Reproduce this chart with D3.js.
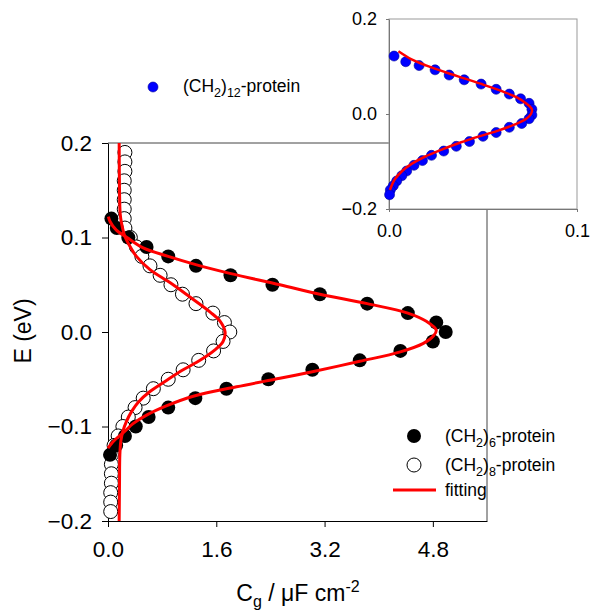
<!DOCTYPE html>
<html><head><meta charset="utf-8">
<script src="https://cdn.jsdelivr.net/npm/d3@7"></script>
<style>body{margin:0;background:#fff}svg{display:block;font-family:Arial,"Liberation Sans",sans-serif}</style>
</head><body>
<script>
// ---- data ----
const xTicks = [0.0, 1.6, 3.2, 4.8];
const yTicks = [-0.2, -0.1, 0.0, 0.1, 0.2];
const insetXTicks = [0.0, 0.1];
const insetYTicks = [-0.2, 0.0, 0.2];

// (CH2)6-protein : [E, C]
const c6E = [0.12,0.11,0.10,0.09,0.08,0.07,0.06,0.05,0.04,0.03,0.02,0.01,0.00,-0.01,-0.02,-0.03,-0.04,-0.05,-0.06,-0.07,-0.08,-0.09,-0.10,-0.11,-0.12,-0.13];
const c6C = [0.05,0.13,0.30,0.57,0.89,1.30,1.81,2.43,3.13,3.83,4.43,4.85,4.99,4.80,4.32,3.72,3.02,2.37,1.75,1.29,0.89,0.60,0.41,0.25,0.12,0.03];

// (CH2)8-protein
const c8E = [0.19,0.18,0.17,0.16,0.15,0.14,0.13,0.12,0.11,0.10,0.09,0.08,0.07,0.06,0.05,0.04,0.03,0.02,0.01,0.00,-0.01,-0.02,-0.03,-0.04,-0.05,-0.06,-0.07,-0.08,-0.09,-0.10,-0.11,-0.12,-0.13,-0.14,-0.15,-0.16,-0.17,-0.18,-0.19];
const c8C = [0.25,0.25,0.25,0.24,0.24,0.24,0.24,0.24,0.25,0.33,0.42,0.50,0.62,0.77,0.93,1.10,1.30,1.55,1.72,1.80,1.70,1.56,1.34,1.11,0.89,0.67,0.52,0.40,0.30,0.22,0.15,0.09,0.05,0.05,0.05,0.05,0.04,0.04,0.04];

// fitting curves
const fit6C = [0.005,0.03,0.12,0.28,0.52,0.89,1.31,1.80,2.54,3.13,3.83,4.43,4.71,4.85,4.81,4.66,4.32,3.72,3.02,2.54,1.90,1.26,0.87,0.57,0.37,0.25,0.12,0.04,0.0];
const fit6E = [0.122,0.117,0.108,0.100,0.089,0.080,0.071,0.062,0.050,0.040,0.030,0.020,0.011,0.002,-0.004,-0.012,-0.021,-0.031,-0.042,-0.049,-0.058,-0.068,-0.078,-0.088,-0.097,-0.105,-0.113,-0.119,-0.123];
const fit8C = [0.165,0.17,0.18,0.20,0.25,0.33,0.42,0.62,0.92,1.21,1.51,1.65,1.73,1.70,1.58,1.36,1.11,0.87,0.62,0.45,0.35,0.27,0.22,0.19,0.175,0.17,0.165];
const fit8E = [0.2,0.15,0.125,0.115,0.101,0.090,0.080,0.066,0.052,0.037,0.021,0.012,0.0,-0.010,-0.019,-0.030,-0.040,-0.051,-0.063,-0.074,-0.084,-0.095,-0.105,-0.115,-0.13,-0.16,-0.2];

// (CH2)12-protein (inset)
const c12C = [0.0027,0.0089,0.016,0.0245,0.032,0.040,0.049,0.057,0.064,0.070,0.0745,0.076,0.076,0.0745,0.0706,0.064,0.057,0.050,0.0428,0.0358,0.0291,0.0226,0.0178,0.0133,0.0094,0.0068,0.0041,0.0023,0.0007,0.0003];
const c12E = [0.122,0.110,0.102,0.093,0.082,0.072,0.063,0.052,0.042,0.032,0.0225,0.010,-0.002,-0.010,-0.020,-0.028,-0.039,-0.047,-0.058,-0.068,-0.078,-0.087,-0.098,-0.108,-0.120,-0.130,-0.141,-0.151,-0.160,-0.170];
const fit12C = [0.005,0.012,0.020,0.030,0.040,0.050,0.060,0.068,0.073,0.076,0.0755,0.073,0.067,0.058,0.048,0.038,0.028,0.019,0.012,0.007,0.003,0.0005];
const fit12E = [0.132,0.115,0.102,0.088,0.075,0.062,0.048,0.035,0.022,0.010,0.0,-0.010,-0.022,-0.035,-0.047,-0.060,-0.075,-0.090,-0.105,-0.120,-0.138,-0.160];

// ---- drawing ----
const W = 590, H = 610;
const svg = d3.select("body").append("svg").attr("width", W).attr("height", H);

const x = d3.scaleLinear().domain([0, 5.6]).range([108, 487]);
const y = d3.scaleLinear().domain([-0.2, 0.2]).range([521, 143]);

// frame (top/right)
svg.append("line").attr("x1", 108).attr("x2", 487).attr("y1", 143).attr("y2", 143).attr("stroke", "#444").attr("stroke-width", 1);
svg.append("line").attr("x1", 487).attr("x2", 487).attr("y1", 143).attr("y2", 521).attr("stroke", "#444").attr("stroke-width", 1);

const xAxis = svg.append("g").attr("transform", "translate(0,521)")
  .call(d3.axisBottom(x).tickValues(xTicks).tickFormat(d3.format(".1f")).tickSize(6).tickSizeOuter(0));
const yAxis = svg.append("g").attr("transform", "translate(108,0)")
  .call(d3.axisLeft(y).tickValues(yTicks).tickFormat(d3.format(".1f")).tickSize(6).tickSizeOuter(0));
[xAxis, yAxis].forEach(g => {
  g.select(".domain").attr("stroke", "#000");
  g.selectAll(".tick line").attr("stroke", "#000");
  g.selectAll("text").attr("font-size", 22.5).attr("font-family", "Arial, 'Liberation Sans', sans-serif").attr("fill", "#000");
});
xAxis.selectAll("text").attr("dy", null).attr("y", 36);
yAxis.selectAll("text").attr("x", -16);

// axis titles
svg.append("text").attr("transform", "translate(31,331) rotate(-90)").attr("text-anchor", "middle")
  .attr("font-size", 23).text("E (eV)");
const xt = svg.append("text").attr("x", 298).attr("y", 601).attr("text-anchor", "middle").attr("font-size", 23);
xt.append("tspan").text("C");
xt.append("tspan").attr("font-size", 16).attr("dy", 6).text("g");
xt.append("tspan").attr("dy", -6).text(" / \u03BCF cm");
xt.append("tspan").attr("font-size", 16).attr("dy", -9).text("-2");

// data markers
const open = c8E.map((e, i) => ({e, c: c8C[i]}));
svg.append("g").selectAll("circle").data(open).join("circle")
  .attr("cx", d => x(d.c)).attr("cy", d => y(d.e)).attr("r", 7)
  .attr("fill", "#fff").attr("stroke", "#000").attr("stroke-width", 1);
const filled = c6E.map((e, i) => ({e, c: c6C[i]}));
svg.append("g").selectAll("circle").data(filled).join("circle")
  .attr("cx", d => x(d.c)).attr("cy", d => y(d.e)).attr("r", 7).attr("fill", "#000");

const lineMain = d3.line().x(d => x(d[0])).y(d => y(d[1])).curve(d3.curveCatmullRom.alpha(0.5));
svg.append("path").datum(fit6C.map((c, i) => [c, fit6E[i]])).attr("d", lineMain)
  .attr("fill", "none").attr("stroke", "#ff0000").attr("stroke-width", 3);
svg.append("path").datum(fit8C.map((c, i) => [c, fit8E[i]])).attr("d", lineMain)
  .attr("fill", "none").attr("stroke", "#ff0000").attr("stroke-width", 3);

// main legend
const lg = svg.append("g");
lg.append("circle").attr("cx", 414).attr("cy", 436).attr("r", 7).attr("fill", "#000");
lg.append("circle").attr("cx", 414).attr("cy", 465).attr("r", 7).attr("fill", "#fff").attr("stroke", "#000");
lg.append("line").attr("x1", 393).attr("x2", 436).attr("y1", 490).attr("y2", 490).attr("stroke", "#ff0000").attr("stroke-width", 3);
function chemLabel(g, xx, yy, n) {
  const t = g.append("text").attr("x", xx).attr("y", yy).attr("font-size", 17.5);
  t.append("tspan").text("(CH");
  t.append("tspan").attr("font-size", 12.5).attr("dy", 5).text("2");
  t.append("tspan").attr("dy", -5).text(")");
  t.append("tspan").attr("font-size", 12.5).attr("dy", 5).text(n);
  t.append("tspan").attr("dy", -5).text("-protein");
}
chemLabel(lg, 445, 442, "6");
chemLabel(lg, 445, 471, "8");
lg.append("text").attr("x", 445).attr("y", 496).attr("font-size", 17.5).text("fitting");

// ---- inset ----
const xi = d3.scaleLinear().domain([0, 0.1]).range([389, 577]);
const yi = d3.scaleLinear().domain([-0.2, 0.2]).range([209, 19]);
svg.append("rect").attr("x", 389).attr("y", 19).attr("width", 188).attr("height", 190)
  .attr("fill", "#fff").attr("stroke", "#999").attr("stroke-width", 1);
const xiAxis = svg.append("g").attr("transform", "translate(0,209)")
  .call(d3.axisBottom(xi).tickValues(insetXTicks).tickFormat(d3.format(".1f")).tickSize(3).tickSizeOuter(0));
const yiAxis = svg.append("g").attr("transform", "translate(389,0)")
  .call(d3.axisLeft(yi).tickValues(insetYTicks).tickFormat(d3.format(".1f")).tickSize(3).tickSizeOuter(0));
[xiAxis, yiAxis].forEach(g => {
  g.select(".domain").attr("stroke", "#777");
  g.selectAll(".tick line").attr("stroke", "#777");
  g.selectAll("text").attr("font-size", 18).attr("font-family", "Arial, 'Liberation Sans', sans-serif").attr("fill", "#000");
});
xiAxis.selectAll("text").attr("dy", null).attr("y", 28);
yiAxis.selectAll("text").attr("x", -12);

svg.append("g").selectAll("circle").data(c12E.map((e, i) => ({e, c: c12C[i]}))).join("circle")
  .attr("cx", d => xi(d.c)).attr("cy", d => yi(d.e)).attr("r", 5)
  .attr("fill", "#0000ff").attr("stroke", "#00009a").attr("stroke-width", 0.6);
const lineIn = d3.line().x(d => xi(d[0])).y(d => yi(d[1])).curve(d3.curveCatmullRom.alpha(0.5));
svg.append("path").datum(fit12C.map((c, i) => [c, fit12E[i]])).attr("d", lineIn)
  .attr("fill", "none").attr("stroke", "#ff0000").attr("stroke-width", 2.5);

// inset legend
svg.append("circle").attr("cx", 153).attr("cy", 87).attr("r", 5).attr("fill", "#0000ff").attr("stroke", "#00009a").attr("stroke-width", 0.6);
chemLabel(svg, 183, 92, "12");
</script>
</body></html>
